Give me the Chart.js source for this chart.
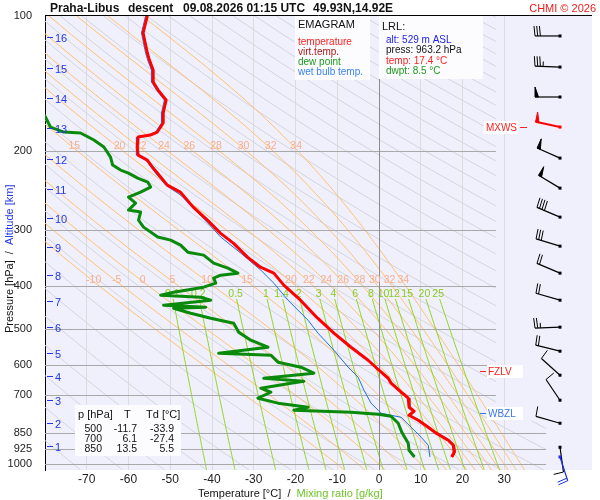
<!DOCTYPE html>
<html>
<head>
<meta charset="utf-8">
<title>Emagram Praha-Libus</title>
<script src="https://cdn.jsdelivr.net/npm/chart.js@4.4.1/dist/chart.umd.min.js"></script>
<style>
  html, body { margin: 0; padding: 0; background: #fff; }
  #box { width: 600px; height: 500px; }
</style>
</head>
<body>
<div id="box"><canvas id="emagram"></canvas></div>
<script>
// sounding: pressure [hPa] / temperature [°C]
const tempP = [100, 109.1, 114.9, 120.9, 125.4, 132.0, 140.4, 146.3, 154.0, 164.6, 173.3, 181.5, 184.3, 186.2, 196.0,
  204.3, 209.6, 218.4, 224.1, 238.4, 247.1, 266.9, 285.3, 305.0, 321.1, 345.2, 363.4, 374.7, 398.5, 430.5, 472.2,
  510.1, 548.2, 586.1, 617.0, 642.9, 659.6, 690.8, 700, 712.4, 746.1, 761.6, 777.5, 797.7, 826.9, 850, 884.1,
  907.1, 940.1, 963.2];
const tempT = [-55.5, -56.5, -56.0, -55.5, -55.0, -54.1, -54.1, -52.9, -51.0, -51.7, -51.7, -53.1, -54.8, -57.7, -57.9,
  -57.7, -55.5, -54.1, -53.1, -50.7, -47.6, -44.5, -41.1, -38.0, -34.9, -31.5, -28.4, -25.2, -22.8, -18.8, -14.7,
  -10.8, -6.7, -2.6, 0.0, 2.2, 2.9, 5.3, 6.1, 7.0, 7.2, 8.4, 7.2, 9.4, 11.8, 13.5, 16.6,
  17.8, 18.0, 17.4];

// virtual temperature, hidden almost everywhere under the temperature curve
const virtP = tempP;
const virtT = [-55.4, -56.4, -55.9, -55.4, -54.9, -54.0, -54.0, -52.8, -50.9, -51.6, -51.6, -53.0, -54.7, -57.6, -57.8,
  -57.6, -55.4, -54.0, -53.0, -50.6, -47.5, -44.4, -41.0, -37.9, -34.8, -31.4, -28.3, -25.1, -22.7, -18.7, -14.6,
  -10.7, -6.6, -2.5, 0.1, 2.4, 3.1, 5.5, 6.3, 7.2, 7.4, 8.6, 7.5, 9.7, 12.1, 13.8, 16.9,
  18.1, 18.3, 17.7];

const dewP = [162.1, 168.0, 176.9, 181.5, 182.4, 189.1, 196.0, 206.4, 215.0, 220.7, 224.1, 229.9, 234.7, 240.8, 247.1,
  253.5, 261.5, 271.0, 273.8, 285.3, 295.8, 311.3, 316.2, 324.5, 336.4, 341.6, 355.9, 365.2, 374.7, 378.6, 384.5,
  394.5, 402.7, 413.2, 419.6, 424.0, 430.5, 441.7, 446.3, 448.6, 460.3, 472.2, 484.5, 507.4, 528.7, 548.2, 565.3,
  571.1, 592.0, 607.4, 626.4, 642.9, 652.7, 659.6, 676.7, 690.8, 712.4, 730.7, 746.1, 757.7, 765.5, 773.4, 781.4,
  810.0, 850, 897.7, 930.6, 963.2];
const dewT = [-81.1, -79.9, -78.7, -75.5, -71.5, -68.3, -65.9, -64.3, -63.8, -61.9, -60.0, -57.8, -55.4, -54.7, -57.1,
  -60.0, -58.3, -60.0, -57.1, -57.6, -56.4, -53.0, -49.9, -47.5, -45.8, -42.0, -39.6, -36.2, -33.8, -37.9, -39.6,
  -39.1, -42.0, -49.2, -52.3, -42.7, -40.3, -51.6, -41.5, -49.2, -45.1, -40.3, -34.8, -33.6, -30.7, -26.6, -38.4,
  -25.9, -24.2, -18.7, -15.6, -27.6, -18.0, -21.1, -28.3, -25.9, -29.0, -24.2, -17.0, -20.4, -6.7, -0.2, 2.9,
  4.6, 5.5, 7.0, 7.2, 8.5];

const wetP = [100, 109.1, 114.9, 120.9, 125.4, 132.0, 140.4, 146.3, 154.0, 164.6, 173.3, 181.5, 184.3, 186.2, 196.0,
  204.3, 209.6, 218.4, 224.1, 238.4, 250.9, 289.8, 311.3, 338.1, 369.0, 394.5, 430.5, 477.1, 510.1, 556.7, 607.4,
  639.3, 683.7, 730.7, 757.7, 769.4, 777.5, 785.5, 826.9, 870.5, 907.1, 963.2];
const wetT = [-55.9, -56.9, -56.4, -55.9, -55.4, -54.5, -54.5, -53.3, -51.4, -52.1, -52.1, -53.5, -55.2, -58.0, -58.2,
  -58.0, -55.8, -54.4, -53.5, -51.1, -47.5, -41.0, -37.9, -33.1, -28.3, -25.2, -21.8, -17.0, -14.6, -10.8, -7.4,
  -5.0, -3.6, -1.9, -0.2, 0.5, 2.9, 5.3, 7.7, 10.1, 11.8, 12.2];

// wind: pressure [hPa], direction [deg], speed [kt]
const windP = [110.8, 130.0, 151.6, 176.9, 207.5, 242.1, 281.0, 326.2, 374.7, 430.5, 494.5, 559.5, 632.9, 719.7, 810.0, 916.5, 963.2];
const windDir = [270, 272, 270, 282, 294, 301, 293, 287, 293, 286, 268, 284, 312, 326, 286, 172, 162];
const windKt = [30, 35, 50, 50, 50, 50, 40, 30, 20, 20, 25, 20, 10, 10, 10, 10, 20];
const maxWindIndex = 3;

// altitude marks on the pressure axis
const altKm = [16, 15, 14, 13, 12, 11, 10, 9, 8, 7, 6, 5, 4, 3, 2, 1];
const altP = [111.4, 130.6, 152.4, 177.8, 208.6, 243.3, 282.4, 327.9, 378.6, 432.7, 494.5, 565.3, 636.2, 719.7, 810.0, 911.6];

const pTicks = [100, 200, 300, 400, 500, 600, 700, 850, 925, 1000];
const tTicks = [-70, -60, -50, -40, -30, -20, -10, 0, 10, 20, 30];
const thetaW = [-10, -5, 0, 5, 10, 15, 20, 22, 24, 26, 28, 30, 32, 34];
const mixRatio = [0.1, 0.2, 0.5, 1, 1.4, 2, 3, 4, 6, 8, 10, 12, 15, 20, 25];

const fzlvP = 618;
const wbzlP = 767;
const lrlLines = ['alt: 529 m ASL', 'press: 963.2 hPa', 'temp: 17.4 °C', 'dwpt: 8.5 °C'];
const tableP = ['500', '700', '850'];
const tableT = ['-11.7', '6.1', '13.5'];
const tableTd = ['-33.9', '-27.4', '5.5'];

const FONT = '"Liberation Sans", Arial, sans-serif';

// thermodynamic helpers for the diagram background
function esat(tc) { return 6.112 * Math.exp(17.67 * tc / (tc + 243.5)); }
function dryCurve(theta) {
    const pts = [];
    for (let p = 100; p <= 1030; p += 10) pts.push([p, theta * Math.pow(p / 1000, 0.2857) - 273.15]);
    return pts;
}
function mixT(w, p) {
    const l = Math.log(w * p / (622 + w) / 6.112);
    return 243.5 * l / (17.67 - l);
}
function moistCurve(tw) {
    const slope = (T, p) => {
        const es = esat(T - 273.15), rs = 0.622 * es / (p - es);
        return (287.04 * T + 2.501e6 * rs) / (p * (1005.7 + 2.501e6 * 2.501e6 * rs * 0.622 / (287.04 * T * T)));
    };
    const step = (T, p, dp) => {
        const k1 = slope(T, p);
        return T + slope(T + k1 * dp / 2, p + dp / 2) * dp;
    };
    const pts = [];
    let T = tw + 273.15;
    for (let p = 1000; p > 100; p -= 5) { pts.push([p, T - 273.15]); T = step(T, p, -5); }
    pts.push([100, T - 273.15]);
    T = tw + 273.15;
    for (let p = 1000; p < 1030; p += 5) { T = step(T, p, 5); pts.unshift([p + 5, T - 273.15]); }
    return pts;
}
function curveT(pts, p) {
    for (let i = 1; i < pts.length; i++) {
        const a = pts[i - 1], b = pts[i];
        if ((a[0] - p) * (b[0] - p) <= 0) return a[1] + (b[1] - a[1]) * (p - a[0]) / (b[0] - a[0]);
    }
    return pts[0][1];
}
function poly(ctx, x, y, pts) {
    ctx.beginPath();
    pts.forEach(([p, t], i) => {
        const px = x.getPixelForValue(t), py = y.getPixelForValue(p);
        if (i) ctx.lineTo(px, py); else ctx.moveTo(px, py);
    });
    ctx.stroke();
}

// lavender plot, adiabats, mixing ratio lines, pressure lines
const background = {
    id: 'background',
    beforeDraw(chart) {
        const { ctx, chartArea: a } = chart;
        ctx.save();
        ctx.fillStyle = '#f0f0fc';
        ctx.fillRect(a.left, a.top, 592 - a.left, a.bottom - a.top);
        ctx.restore();
    },
    beforeDatasetsDraw(chart) {
        const { ctx, chartArea: a, scales: { x, y } } = chart;
        const edge = x.getPixelForValue(28), low = y.getPixelForValue(800);
        ctx.save();
        ctx.beginPath();
        ctx.rect(a.left, a.top, edge - a.left, low - a.top);
        ctx.rect(a.left, low, a.right - a.left, a.bottom - low);
        ctx.clip();
        ctx.lineWidth = 1;

        ctx.strokeStyle = '#d4d4dc';
        for (let th = 200; th <= 600; th += 10) poly(ctx, x, y, dryCurve(th));

        ctx.strokeStyle = '#ffc070';
        const moist = thetaW.map(moistCurve);
        moist.forEach(pts => poly(ctx, x, y, pts));

        ctx.strokeStyle = '#90d41c';
        mixRatio.forEach(w => {
            const pts = [];
            for (let p = 428; p <= 1030; p += 6) pts.push([p, mixT(w, p)]);
            poly(ctx, x, y, pts);
        });

        ctx.strokeStyle = '#a8a8a8';
        pTicks.slice(1).forEach(p => {
            const py = Math.round(y.getPixelForValue(p)) + 0.5;
            ctx.beginPath(); ctx.moveTo(a.left, py); ctx.lineTo(a.right, py); ctx.stroke();
        });
        ctx.strokeStyle = '#8c8c8c';
        const x0 = Math.round(x.getPixelForValue(0)) + 0.5;
        ctx.beginPath(); ctx.moveTo(x0, a.top); ctx.lineTo(x0, a.bottom); ctx.stroke();
        ctx.restore();

        // labels of the moist adiabats and mixing ratio lines
        ctx.save();
        ctx.textAlign = 'center';
        ctx.textBaseline = 'middle';
        ctx.font = '10.5px ' + FONT;
        ctx.fillStyle = '#f8ae8c';
        moist.forEach((pts, i) => {
            if (thetaW[i] >= 15) ctx.fillText(String(thetaW[i]), x.getPixelForValue(curveT(pts, 195)) + 3, y.getPixelForValue(195));
            ctx.fillText(String(thetaW[i]), x.getPixelForValue(curveT(pts, 388)) + 2, y.getPixelForValue(388));
        });
        ctx.fillStyle = '#88cc22';
        mixRatio.forEach(w => {
            ctx.fillText(String(w), x.getPixelForValue(mixT(w, 418)), y.getPixelForValue(418));
        });
        ctx.restore();
    }
};

function drawBarb(ctx, x0, y0, dir, kt, color, width) {
    const r = dir * Math.PI / 180;
    const dx = Math.sin(r), dy = -Math.cos(r);
    const px = -dy, py = dx;
    const L = 25;
    const ex = x0 + dx * L, ey = y0 + dy * L;
    ctx.strokeStyle = color; ctx.fillStyle = color; ctx.lineWidth = width;
    ctx.beginPath(); ctx.moveTo(x0, y0); ctx.lineTo(ex, ey); ctx.stroke();
    let rest = Math.round(kt / 5) * 5, pos = 0;
    ctx.lineWidth = 1;
    while (rest >= 50) {
        const bx = ex - dx * pos, by = ey - dy * pos;
        ctx.beginPath();
        ctx.moveTo(bx, by);
        ctx.lineTo(bx + px * 10, by + py * 10);
        ctx.lineTo(bx - dx * 3.5, by - dy * 3.5);
        ctx.closePath(); ctx.fill(); ctx.stroke();
        rest -= 50; pos += 6;
    }
    while (rest >= 10) {
        const bx = ex - dx * pos, by = ey - dy * pos;
        ctx.beginPath(); ctx.moveTo(bx, by); ctx.lineTo(bx + px * 10 + dx, by + py * 10 + dy); ctx.stroke();
        rest -= 10; pos += 2.7;
    }
    if (rest >= 5) {
        if (pos === 0) pos = 2.7;
        const bx = ex - dx * pos, by = ey - dy * pos;
        ctx.beginPath(); ctx.moveTo(bx, by); ctx.lineTo(bx + px * 5, by + py * 5); ctx.stroke();
    }
    ctx.fillRect(x0 - 1.5, y0 - 1.5, 3, 3);
}

function tag(ctx, text, x, y, color, dashLeft) {
    ctx.font = '10px ' + FONT;
    const w = ctx.measureText(text).width;
    ctx.fillStyle = '#ffffff';
    ctx.strokeStyle = color;
    ctx.lineWidth = 1;
    if (dashLeft) {
        ctx.fillRect(x + 7, y - 6, 36, 13);
        ctx.beginPath(); ctx.moveTo(x, y + 0.5); ctx.lineTo(x + 6, y + 0.5); ctx.stroke();
        ctx.fillStyle = color; ctx.textAlign = 'left';
        ctx.fillText(text, x + 8, y + 4);
    } else {
        ctx.fillRect(x - w - 2, y - 6, w + 3, 13);
        ctx.beginPath(); ctx.moveTo(x + 3, y + 0.5); ctx.lineTo(x + 10, y + 0.5); ctx.stroke();
        ctx.fillStyle = color; ctx.textAlign = 'right';
        ctx.fillText(text, x, y + 4);
    }
}

const overlay = {
    id: 'overlay',
    afterDraw(chart) {
        const { ctx, chartArea: a, scales: { x, y } } = chart;
        ctx.save();
        ctx.textBaseline = 'alphabetic';

        // frame line on top
        ctx.strokeStyle = '#000'; ctx.lineWidth = 1;
        ctx.beginPath(); ctx.moveTo(a.left, a.top - 0.5); ctx.lineTo(592, a.top - 0.5); ctx.stroke();

        // header
        ctx.fillStyle = '#111'; ctx.font = 'bold 12px ' + FONT; ctx.textAlign = 'left';
        ctx.fillText('Praha-Libus', 50, 12);
        ctx.fillText('descent', 128, 12);
        ctx.fillText('09.08.2026 01:15 UTC', 183, 12);
        ctx.fillText('49.93N,14.92E', 313, 12);
        ctx.fillStyle = '#ee1c1c'; ctx.font = '11px ' + FONT; ctx.textAlign = 'right';
        ctx.fillText('CHMI © 2026', 596, 12);

        // altitude marks
        ctx.strokeStyle = '#2236ee'; ctx.fillStyle = '#2236ee'; ctx.font = '11px ' + FONT; ctx.textAlign = 'left';
        altKm.forEach((km, i) => {
            const py = Math.round(y.getPixelForValue(altP[i])) + 0.5;
            ctx.beginPath(); ctx.moveTo(47, py); ctx.lineTo(53, py); ctx.stroke();
            ctx.fillText(String(km), 55, py + 4);
        });

        // legend box
        ctx.fillStyle = '#fcfcff'; ctx.fillRect(295, 16, 75, 64);
        ctx.fillStyle = '#111'; ctx.font = '11px ' + FONT;
        ctx.fillText('EMAGRAM', 298, 28);
        ctx.font = '10px ' + FONT;
        [['temperature', '#ff2020'], ['virt.temp.', '#a81818'], ['dew point', '#1e9a1e'], ['wet bulb temp.', '#3a82ee']]
            .forEach(([t, c], i) => { ctx.fillStyle = c; ctx.fillText(t, 298, 45 + i * 10); });

        // launch point box
        ctx.fillStyle = '#fcfcff'; ctx.fillRect(379, 16, 104, 63);
        ctx.fillStyle = '#111'; ctx.font = '11px ' + FONT;
        ctx.fillText('LRL:', 382, 30);
        ctx.font = '10px ' + FONT;
        ['#2222ee', '#111111', '#ff2020', '#1e9a1e'].forEach((c, i) => {
            ctx.fillStyle = c; ctx.fillText(lrlLines[i], 386, 43 + i * 10.3);
        });

        // table of standard levels
        ctx.fillStyle = '#fcfcff'; ctx.fillRect(75, 405, 106, 51);
        ctx.fillStyle = '#111'; ctx.font = '11px ' + FONT; ctx.textAlign = 'left';
        ctx.fillText('p [hPa]', 78, 418);
        ctx.fillText('T', 124, 418);
        ctx.fillText('Td [°C]', 146, 418);
        ctx.font = '10.5px ' + FONT; ctx.textAlign = 'right';
        tableP.forEach((p, i) => {
            const ty = 432 + i * 10;
            ctx.fillText(p, 102, ty);
            ctx.fillText(tableT[i], 137, ty);
            ctx.fillText(tableTd[i], 174, ty);
        });

        // level tags
        tag(ctx, 'MXWS', 517, Math.round(y.getPixelForValue(windP[maxWindIndex])), '#ff2020', false);
        tag(ctx, 'FZLV', 480, Math.round(y.getPixelForValue(fzlvP)), '#ff2020', true);
        tag(ctx, 'WBZL', 480, Math.round(y.getPixelForValue(wbzlP)), '#3a78e8', true);

        // wind barbs
        windP.forEach((p, i) => {
            const last = i === windP.length - 1;
            const color = i === maxWindIndex ? '#ff0000' : (last ? '#1530e8' : '#000000');
            drawBarb(ctx, a.right + 14, y.getPixelForValue(p), windDir[i], windKt[i], color, i === maxWindIndex ? 2 : 1.2);
        });

        // axis titles
        ctx.font = '11px ' + FONT; ctx.textAlign = 'left';
        ctx.save();
        ctx.translate(13, 333);
        ctx.rotate(-Math.PI / 2);
        const first = 'Pressure [hPa]  /  ';
        ctx.fillStyle = '#111'; ctx.fillText(first, 0, 0);
        ctx.fillStyle = '#2236ee'; ctx.fillText('Altitude [km]', ctx.measureText(first).width, 0);
        ctx.restore();
        const xt = 'Temperature [°C]  /  ';
        ctx.fillStyle = '#111'; ctx.fillText(xt, 198, 497);
        ctx.fillStyle = '#6cc426'; ctx.fillText('Mixing ratio [g/kg]', 198 + ctx.measureText(xt).width, 497);
        ctx.restore();
    }
};

const pairs = (ts, ps) => ts.map((t, i) => ({ x: t, y: ps[i] }));

new Chart(document.getElementById('emagram'), {
    type: 'line',
    data: {
        datasets: [
            { label: 'temperature', data: pairs(tempT, tempP), borderColor: '#ff0000', borderWidth: 3, clip: 0 },
            { label: 'dew point', data: pairs(dewT, dewP), borderColor: '#0a8a0a', borderWidth: 3, clip: 0 },
            { label: 'wet bulb temp.', data: pairs(wetT, wetP), borderColor: '#1e6fe6', borderWidth: 1, clip: 0 },
            { label: 'virt.temp.', data: pairs(virtT, virtP), borderColor: '#a01010', borderWidth: 1, clip: 0 }
        ]
    },
    options: {
        responsive: true,
        maintainAspectRatio: false,
        animation: false,
        elements: { point: { radius: 0 }, line: { tension: 0, borderJoinStyle: 'round', fill: false } },
        layout: { padding: { top: 16, right: 54, left: 0, bottom: 0 } },
        plugins: { legend: { display: false }, tooltip: { enabled: false } },
        scales: {
            x: {
                type: 'linear', min: -80, max: 40,
                afterBuildTicks: s => { s.ticks = tTicks.map(v => ({ value: v })); },
                afterFit: s => { s.height = 30; },
                grid: { color: c => (c.tick && c.tick.value === 0 ? '#8c8c8c' : '#dcdcdc'), drawTicks: false },
                border: { display: false },
                ticks: { font: { size: 12, family: FONT }, color: '#222', padding: 2, maxRotation: 0, autoSkip: false, callback: v => String(v) }
            },
            y: {
                type: 'logarithmic', reverse: true, min: 100, max: 1030,
                afterBuildTicks: s => { s.ticks = pTicks.map(v => ({ value: v })); },
                afterFit: s => { s.width = 45; },
                grid: { display: false },
                border: { display: true, color: '#000', width: 1 },
                ticks: { font: { size: 11, family: FONT }, color: '#222', padding: 5, autoSkip: false, callback: v => String(v) }
            }
        }
    },
    plugins: [background, overlay]
});
</script>
</body>
</html>
